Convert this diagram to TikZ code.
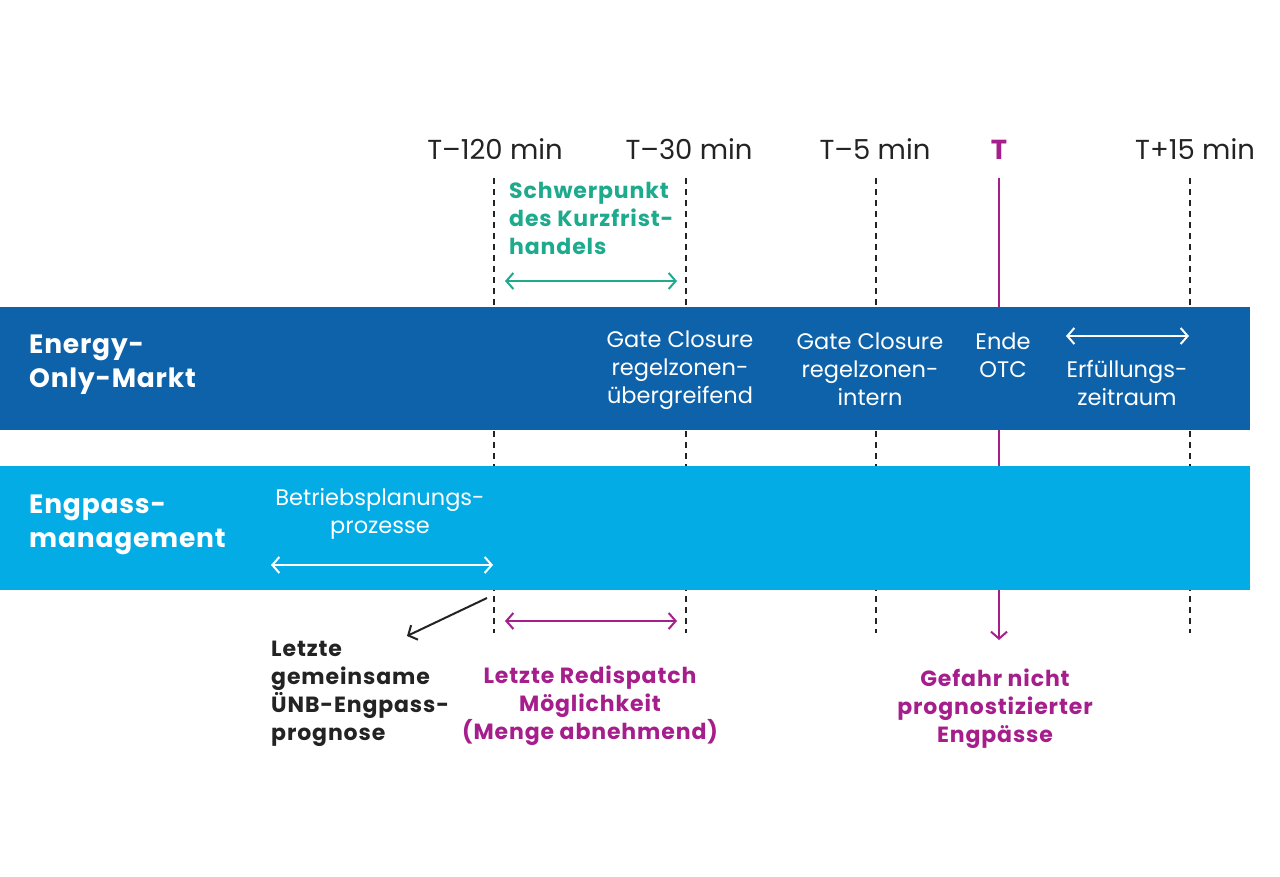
\documentclass[tikz,border=0pt]{standalone}
\usepackage{fontspec}
\setmainfont{Poppins}
\usetikzlibrary{arrows.meta}
\definecolor{dblue}{RGB}{13,98,170}
\definecolor{lblue}{RGB}{4,172,230}
\definecolor{teal}{RGB}{30,170,140}
\definecolor{mag}{RGB}{165,30,140}
\definecolor{ink}{RGB}{35,35,35}
\tikzset{
  tick/.style={draw=ink, line width=2pt, dash pattern=on 6pt off 5pt},
  ticklbl/.style={inner sep=0pt, anchor=base, text=ink, font=\fontsize{27.5}{30}\selectfont},
  bandlbl/.style={inner sep=0pt, align=center, text=white, font=\fontsize{22.5}{28}\selectfont},
  bandhead/.style={inner sep=0pt, align=left, anchor=west, text=white, font=\bfseries\addfontfeatures{LetterSpace=3}\fontsize{26.5}{34}\selectfont},
  note/.style={inner sep=0pt, font=\bfseries\addfontfeatures{LetterSpace=4}\fontsize{22}{28}\selectfont},
  dbl/.style={line width=2pt, {Straight Barb[length=7pt,width=16pt]}-{Straight Barb[length=7pt,width=16pt]}},
  one/.style={line width=2pt, -{Straight Barb[length=7pt,width=16pt]}}
}
\begin{document}
\begin{tikzpicture}[x=1pt,y=-1pt]
\useasboundingbox (0,0) rectangle (1280,877);
\fill[white] (0,0) rectangle (1280,877);
% timeline coordinates
\coordinate (a1) at (494,178); \coordinate (a2) at (494,633);
\coordinate (b1) at (686,178); \coordinate (b2) at (686,633);
\coordinate (c1) at (876,178); \coordinate (c2) at (876,633);
\coordinate (d1) at (999,178); \coordinate (d2) at (999,640);
\coordinate (e1) at (1190,178); \coordinate (e2) at (1190,633);
\draw[tick] (a1) -- (a2);
\draw[tick] (b1) -- (b2);
\draw[tick] (c1) -- (c2);
\draw[tick] (e1) -- (e2);
\draw[one, draw=mag] (d1) -- (d2);
% bands
\fill[dblue] (0,307) rectangle (1250,430);
\fill[lblue] (0,466) rectangle (1250,590);
% tick labels
\node[ticklbl] (t120) at (495,160) {T–120 min};
\node[ticklbl] (t30) at (689,160) {T–30 min};
\node[ticklbl] (t5) at (875,160) {T–5 min};
\node[ticklbl, text=mag, font=\bfseries\fontsize{27.5}{30}\selectfont] (t0) at (999,160) {T};
\node[ticklbl] (t15) at (1195,160) {T+15 min};
% teal
\node[note, text=teal, align=left, anchor=west] (schw) at (509,218) {Schwerpunkt\\des Kurzfrist-\\handels};
\coordinate (s1) at (505,281); \coordinate (s2) at (677,281);
\draw[dbl, draw=teal] (s1) -- (s2);
% band 1
\node[bandhead] (eom) at (29,365) {Energy-\\Only-Markt};
\node[bandlbl] (gc1) at (680,370) {Gate Closure\\regelzonen-\\übergreifend};
\node[bandlbl] (gc2) at (870,369) {Gate Closure\\regelzonen-\\intern};
\node[bandlbl] (otc) at (1003,355) {Ende\\OTC};
\node[bandlbl] (erf) at (1127,383) {Erfüllungs-\\zeitraum};
\coordinate (f1) at (1066,336); \coordinate (f2) at (1189,336);
\draw[dbl, draw=white] (f1) -- (f2);
% band 2
\node[bandhead] (epm) at (29,525) {Engpass-\\management};
\node[bandlbl] (bpp) at (380,514) {Betriebsplanungs-\\prozesse};
\coordinate (g1) at (271,565); \coordinate (g2) at (493,565);
\draw[dbl, draw=white] (g1) -- (g2);
% below
\coordinate (h1) at (487,598); \coordinate (h2) at (407,636);
\draw[one, draw=ink] (h1) -- (h2);
\node[note, text=ink, align=left, anchor=west] (lgp) at (271,694) {Letzte\\gemeinsame\\ÜNB-Engpass-\\prognose};
\coordinate (r1) at (505,621); \coordinate (r2) at (677,621);
\draw[dbl, draw=mag] (r1) -- (r2);
\node[note, text=mag, align=center] (lrm) at (590,706) {Letzte Redispatch\\Möglichkeit\\(Menge abnehmend)};
\node[note, text=mag, align=center] (gef) at (995,709) {Gefahr nicht\\prognostizierter\\Engpässe};
\end{tikzpicture}
\end{document}
